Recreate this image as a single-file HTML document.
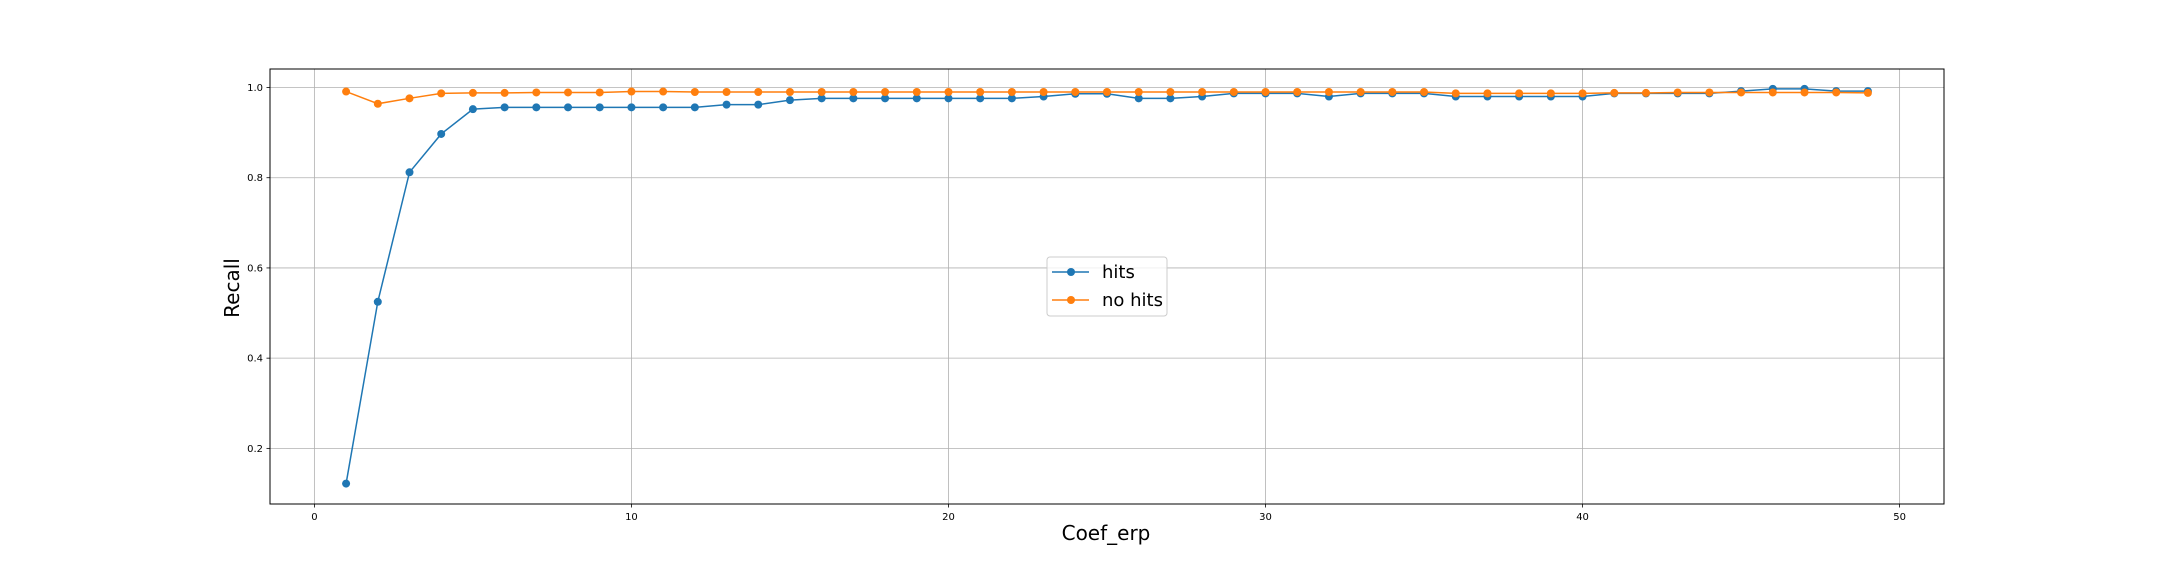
<!DOCTYPE html>
<html><head><meta charset="utf-8"><style>
html,body{margin:0;padding:0;background:#fff;}
svg{display:block;font-family:"DejaVu Sans","Liberation Sans",sans-serif;}
</style></head><body>
<svg id="chart" width="2160" height="576" viewBox="0 0 2160 576" xmlns="http://www.w3.org/2000/svg">
<rect width="2160" height="576" fill="#fff"/>
<g id="grid"></g>
<g id="ticks"></g>
<g id="series"></g>
<rect x="270" y="69" width="1674" height="435" fill="none" stroke="#000" stroke-width="1"/>
<text x="0" y="0" transform="translate(239,288) rotate(-90)" text-anchor="middle" font-size="20">Recall</text>
<text x="1106" y="540" text-anchor="middle" font-size="20">Coef_erp</text>
<g>
<rect x="1047" y="257" width="120" height="59" rx="3" fill="#fff" fill-opacity="0.8" stroke="#ccc"/>
<g>
<line x1="1052" y1="272" x2="1089" y2="272" stroke="#1f77b4" stroke-width="1.5"/>
<circle cx="1071" cy="272" r="4" fill="#1f77b4"/>
<text x="1102" y="278" font-size="18">hits</text></g>
<g>
<line x1="1052" y1="300" x2="1089" y2="300" stroke="#ff7f0e" stroke-width="1.5"/>
<circle cx="1071" cy="300" r="4" fill="#ff7f0e"/>
<text x="1102" y="306" font-size="18">no hits</text></g>
</g>
</svg>
<script>
const xs = [1,2,3,4,5,6,7,8,9,10,11,12,13,14,15,16,17,18,19,20,21,22,23,24,25,26,27,28,29,30,31,32,33,34,35,36,37,38,39,40,41,42,43,44,45,46,47,48,49];
const hits = [0.122,0.525,0.812,0.897,0.952,0.956,0.956,0.956,0.956,0.956,0.956,0.956,0.962,0.962,0.972,0.976,0.976,0.976,0.976,0.976,0.976,0.976,0.980,0.986,0.986,0.976,0.976,0.980,0.987,0.987,0.987,0.980,0.987,0.987,0.987,0.980,0.980,0.980,0.980,0.980,0.987,0.987,0.987,0.987,0.992,0.997,0.997,0.992,0.992];
const noHits = [0.991,0.964,0.976,0.987,0.988,0.988,0.989,0.989,0.989,0.991,0.991,0.990,0.990,0.990,0.990,0.990,0.990,0.990,0.990,0.990,0.990,0.990,0.990,0.990,0.990,0.990,0.990,0.990,0.990,0.990,0.990,0.990,0.990,0.990,0.990,0.987,0.987,0.987,0.987,0.987,0.988,0.988,0.989,0.989,0.989,0.989,0.989,0.989,0.988];
const xTicks = [0,10,20,30,40,50];
const yTicks = [0.2,0.4,0.6,0.8,1.0];
const yTickLabels = ["0.2","0.4","0.6","0.8","1.0"];

const L=270,R=1944,T=69,B=504;
const xMin=-1.4,xMax=51.4,yMin=0.0767,yMax=1.041;
function xp(v){return L+(v-xMin)/(xMax-xMin)*(R-L);}
function yp(v){return B-(v-yMin)/(yMax-yMin)*(B-T);}
const NS="http://www.w3.org/2000/svg";
function mk(tag,attrs,parent){const e=document.createElementNS(NS,tag);for(const k in attrs)e.setAttribute(k,attrs[k]);parent.appendChild(e);return e;}
const grid=document.getElementById('grid'),ticks=document.getElementById('ticks'),series=document.getElementById('series');
xTicks.forEach(t=>{
  const x=xp(t);
  const g=mk('line',{x1:x,y1:T,x2:x,y2:B,stroke:'#b0b0b0','stroke-width':0.8},grid);
  
  
  mk('line',{x1:x,y1:B,x2:x,y2:B+3.5,stroke:'#000','stroke-width':0.8},ticks);
  const tx=mk('text',{x:x,y:B+16,'text-anchor':'middle','font-size':10},ticks);
  tx.textContent=String(t);
  
  
});
yTicks.forEach((t,i)=>{
  const y=yp(t);
  const g=mk('line',{x1:L,y1:y,x2:R,y2:y,stroke:'#b0b0b0','stroke-width':0.8},grid);
  
  
  mk('line',{x1:L-3.5,y1:y,x2:L,y2:y,stroke:'#000','stroke-width':0.8},ticks);
  const tx=mk('text',{x:L-7,y:y+3.5,'text-anchor':'end','font-size':10},ticks);
  tx.textContent=yTickLabels[i];
  
  
});
function drawSeries(vals,color,name){
  const g=mk('g',{},series);
  
  
  const pts=xs.map((x,i)=>xp(x).toFixed(2)+','+yp(vals[i]).toFixed(2)).join(' ');
  const pl=mk('polyline',{points:pts,fill:'none',stroke:color,'stroke-width':1.5},g);
  
  
  xs.forEach((x,i)=>{
    const c=mk('circle',{cx:xp(x),cy:yp(vals[i]),r:4,fill:color},g);
    
    
  });
}
drawSeries(hits,'#1f77b4','hits');
drawSeries(noHits,'#ff7f0e','no-hits');
</script>
</body></html>
